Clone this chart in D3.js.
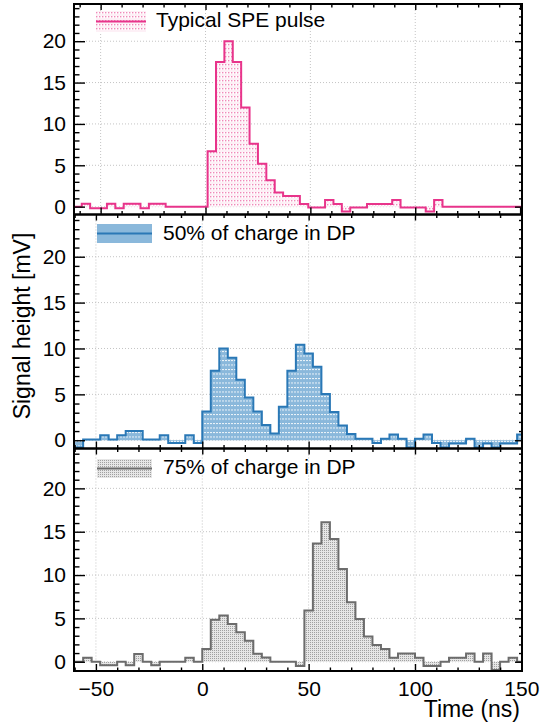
<!DOCTYPE html>
<html>
<head>
<meta charset="utf-8">
<script src="https://cdn.jsdelivr.net/npm/d3@7"></script>
<style>
  html, body { margin: 0; padding: 0; background: #fff; }
  svg { display: block; font-family: "Liberation Sans", Arial, Helvetica, sans-serif; }
</style>
</head>
<body>
<svg id="chart" width="540" height="726"></svg>
<script>
// ---------------- data ----------------
const binWidth = 4; // ns

// Typical SPE pulse (first bin starts at -63 ns)
const speStart = -63;
const speValues = [
  0, 0.35, -0.2, -0.2, 0.35, -0.2, 0.35, 0.35, -0.2, 0.35,
  0.35, 0, 0, 0, 0, 0, 6.7, 17.5, 20.0, 17.5,
  12.0, 7.6, 5.2, 3.2, 1.7, 1.3, 1.3, 0.33, -0.1, -0.1,
  0.8, 0.33, -0.6, -0.1, -0.1, 0.33, 0.33, 0.33, 0.8, -0.1,
  -0.1, -0.1, -0.6, 0.8, 0, 0, 0, 0, 0, 0,
  0, 0, 0, 0
];

// 50% of charge in DP (first bin starts at -64 ns)
const dp50Start = -64;
const dp50Values = [
  -0.8, -0.8, 0.07, 0.07, 0.55, 0.07, 0.55, 1.02, 1.02, 0.07,
  0.07, 0.55, -0.3, -0.3, 0.55, -0.3, 3.13, 7.56, 10.0, 9.0,
  6.58, 4.65, 3.13, 1.67, 0.73, 3.64, 7.56, 10.4, 9.45, 8.0,
  5.05, 3.07, 1.6, 0.68, 0.15, 0.15, -0.3, 0.15, 0.62, 0.15,
  -0.8, 0.15, 0.62, -0.3, -0.8, -0.36, -0.36, 0.15, -0.8, -0.36,
  -0.8, -0.36, -0.36, 0.62
];

// 75% of charge in DP (first bin starts at -64 ns)
const dp75Start = -64;
const dp75Values = [
  0, 0, 0.46, 0, -0.4, -0.4, 0, -0.4, 0.9, 0,
  -0.4, 0, 0, 0, 0.46, 0, 1.47, 4.83, 5.33, 4.36,
  3.4, 2.43, 0.92, 0.48, 0, 0, 0, -0.5, 5.9, 13.65,
  16.1, 14.15, 10.7, 6.85, 4.92, 2.9, 1.93, 1.46, 0.46, 0.96,
  0.96, 0.46, -0.5, -0.5, 0, 0.46, 0.46, 0.96, 0, 0.96,
  -0.96, 0, 0.46, 0
];

const legendLabels = ["Typical SPE pulse", "50% of charge in DP", "75% of charge in DP"];
const xMajorTicks = [-50, 0, 50, 100, 150];
const xMinorTicks = [-60, -40, -30, -20, -10, 10, 20, 30, 40, 60, 70, 80, 90, 110, 120, 130, 140];
const yMajorTicks = [0, 5, 10, 15, 20];
const yMinorTicks = [-1, 1, 2, 3, 4, 6, 7, 8, 9, 11, 12, 13, 14, 16, 17, 18, 19, 21, 22, 23, 24];
const xTitle = "Time (ns)";
const yTitle = "Signal height [mV]";

// ---------------- layout ----------------
const svg = d3.select("#chart");
const left = 74, right = 522;
const font = "'Liberation Sans', Arial, Helvetica, sans-serif";

const panels = [
  { start: speStart, values: speValues, label: legendLabels[0],
    top: 4, bottom: 214.5, xdom: [-62.7, 150.9], ydom: [-0.95, 24.5],
    line: "#e8348b", pattern: "pPink",
    leg: { x0: 96, x1: 146, y0: 11, y1: 32, tx: 156, ty: 27 } },
  { start: dp50Start, values: dp50Values, label: legendLabels[1],
    top: 214.5, bottom: 448.5, xdom: [-60.3, 150.3], ydom: [-0.9, 24.6],
    line: "#2a78b6", pattern: "pBlue",
    leg: { x0: 97, x1: 152, y0: 224, y1: 243, tx: 163, ty: 240 } },
  { start: dp75Start, values: dp75Values, label: legendLabels[2],
    top: 448.5, bottom: 671, xdom: [-60.3, 150.3], ydom: [-1.07, 24.6],
    line: "#6c6c6c", pattern: "pGray",
    leg: { x0: 97, x1: 152, y0: 459, y1: 478, tx: 163, ty: 474 } }
];

// ---------------- patterns ----------------
const defs = svg.append("defs");
{
  const p = defs.append("pattern").attr("id", "pPink").attr("patternUnits", "userSpaceOnUse")
    .attr("width", 3).attr("height", 4);
  p.append("rect").attr("width", 3).attr("height", 4).attr("fill", "#ffffff");
  p.append("rect").attr("x", 0).attr("y", 2.5).attr("width", 3).attr("height", 1)
    .attr("fill", "#fbe1ed");
  p.append("rect").attr("x", 0).attr("y", 0).attr("width", 1.4).attr("height", 1.4)
    .attr("fill", "#f089b9");
}
{
  const p = defs.append("pattern").attr("id", "pBlue").attr("patternUnits", "userSpaceOnUse")
    .attr("width", 3).attr("height", 4.5);
  p.append("rect").attr("width", 3).attr("height", 4.5).attr("fill", "#8ab8db");
  p.append("rect").attr("x", 0).attr("y", 0).attr("width", 2).attr("height", 1)
    .attr("fill", "#eef5fa");
}
{
  const p = defs.append("pattern").attr("id", "pGray").attr("patternUnits", "userSpaceOnUse")
    .attr("width", 2).attr("height", 2);
  p.append("rect").attr("width", 2).attr("height", 2).attr("fill", "#e6e6e6");
  p.append("rect").attr("x", 0).attr("y", 0).attr("width", 1).attr("height", 1)
    .attr("fill", "#a0a0a0");
}

// ---------------- draw panels ----------------
panels.forEach((P, idx) => {
  const x = d3.scaleLinear().domain(P.xdom).range([left, right]);
  const y = d3.scaleLinear().domain(P.ydom).range([P.bottom, P.top]);
  const g = svg.append("g");

  const clipId = "clip" + idx;
  defs.append("clipPath").attr("id", clipId)
    .append("rect").attr("x", left).attr("y", P.top)
    .attr("width", right - left).attr("height", P.bottom - P.top);

  // grid
  const grid = g.append("g").attr("stroke", "#c4c4c4").attr("stroke-width", 1)
    .attr("stroke-dasharray", "1,2");
  xMajorTicks.forEach(t => {
    if (t > P.xdom[0] && t < P.xdom[1] - 1) {
      grid.append("line").attr("x1", x(t)).attr("x2", x(t))
        .attr("y1", P.top).attr("y2", P.bottom);
    }
  });
  yMajorTicks.forEach(t => {
    grid.append("line").attr("x1", left).attr("x2", right)
      .attr("y1", y(t)).attr("y2", y(t));
  });

  // histogram points
  const pts = [];
  P.values.forEach((v, i) => {
    const t0 = P.start + i * binWidth;
    pts.push([t0, v], [t0 + binWidth, v]);
  });

  const hg = g.append("g").attr("clip-path", `url(#${clipId})`);
  const area = d3.area().x(d => x(d[0])).y0(y(0)).y1(d => y(d[1]));
  hg.append("path").datum(pts).attr("d", area).attr("fill", `url(#${P.pattern})`);
  const line = d3.line().x(d => x(d[0])).y(d => y(d[1]));
  hg.append("path").datum(pts).attr("d", line).attr("fill", "none")
    .attr("stroke", P.line).attr("stroke-width", 2).attr("stroke-linejoin", "miter");

  // axes (ticks inward)
  const styleAxis = sel => {
    sel.select(".domain").remove();
    sel.selectAll(".tick line").attr("stroke", "#000").attr("stroke-width", 1.4);
    sel.selectAll(".tick text").attr("font-family", font).attr("font-size", 21).attr("fill", "#000");
  };
  g.append("g").attr("transform", `translate(${left},0)`)
    .call(d3.axisLeft(y).tickValues(yMajorTicks).tickSize(-11).tickPadding(8).tickFormat(d3.format("d")))
    .call(styleAxis);
  g.append("g").attr("transform", `translate(${left},0)`)
    .call(d3.axisLeft(y).tickValues(yMinorTicks.filter(t => t > P.ydom[0])).tickSize(-5.5).tickFormat(""))
    .call(styleAxis);
  g.append("g").attr("transform", `translate(${right},0)`)
    .call(d3.axisRight(y).tickValues(yMajorTicks).tickSize(-7).tickFormat(""))
    .call(styleAxis);
  g.append("g").attr("transform", `translate(${right},0)`)
    .call(d3.axisRight(y).tickValues(yMinorTicks.filter(t => t > P.ydom[0])).tickSize(-3).tickFormat(""))
    .call(styleAxis);

  const isBottom = idx === panels.length - 1;
  g.append("g").attr("transform", `translate(0,${P.bottom})`)
    .call(d3.axisBottom(x).tickValues(xMajorTicks.filter(t => t >= P.xdom[0] && t <= P.xdom[1]))
      .tickSize(-7).tickPadding(10).tickFormat(isBottom ? d3.format("d") : ""))
    .call(styleAxis);
  g.append("g").attr("transform", `translate(0,${P.bottom})`)
    .call(d3.axisBottom(x).tickValues(xMinorTicks.filter(t => t >= P.xdom[0] && t <= P.xdom[1]))
      .tickSize(-3.5).tickFormat(""))
    .call(styleAxis);
  g.append("g").attr("transform", `translate(0,${P.top})`)
    .call(d3.axisTop(x).tickValues(xMajorTicks.filter(t => t >= P.xdom[0] && t <= P.xdom[1]))
      .tickSize(-6).tickFormat(""))
    .call(styleAxis);
  g.append("g").attr("transform", `translate(0,${P.top})`)
    .call(d3.axisTop(x).tickValues(xMinorTicks.filter(t => t >= P.xdom[0] && t <= P.xdom[1]))
      .tickSize(-3.5).tickFormat(""))
    .call(styleAxis);

  // frame
  g.append("rect").attr("x", left).attr("y", P.top)
    .attr("width", right - left).attr("height", P.bottom - P.top)
    .attr("fill", "none").attr("stroke", "#000").attr("stroke-width", 2);

  // legend
  const L = P.leg;
  g.append("rect").attr("x", L.x0).attr("y", L.y0).attr("width", L.x1 - L.x0).attr("height", L.y1 - L.y0)
    .attr("fill", idx === 1 ? "#8ab8db" : `url(#${P.pattern})`);
  g.append("line").attr("x1", L.x0).attr("x2", L.x1)
    .attr("y1", (L.y0 + L.y1) / 2).attr("y2", (L.y0 + L.y1) / 2)
    .attr("stroke", P.line).attr("stroke-width", 2);
  g.append("text").attr("x", L.tx).attr("y", L.ty).text(P.label)
    .attr("font-family", font).attr("font-size", 21).attr("fill", "#000");
});

// axis titles
svg.append("text").attr("x", 520).attr("y", 717).attr("text-anchor", "end")
  .attr("font-family", font).attr("font-size", 23).attr("fill", "#000").text(xTitle);
svg.append("text").attr("transform", "translate(30,326) rotate(-90)").attr("text-anchor", "middle")
  .attr("font-family", font).attr("font-size", 23).attr("fill", "#000").text(yTitle);
</script>
</body>
</html>
